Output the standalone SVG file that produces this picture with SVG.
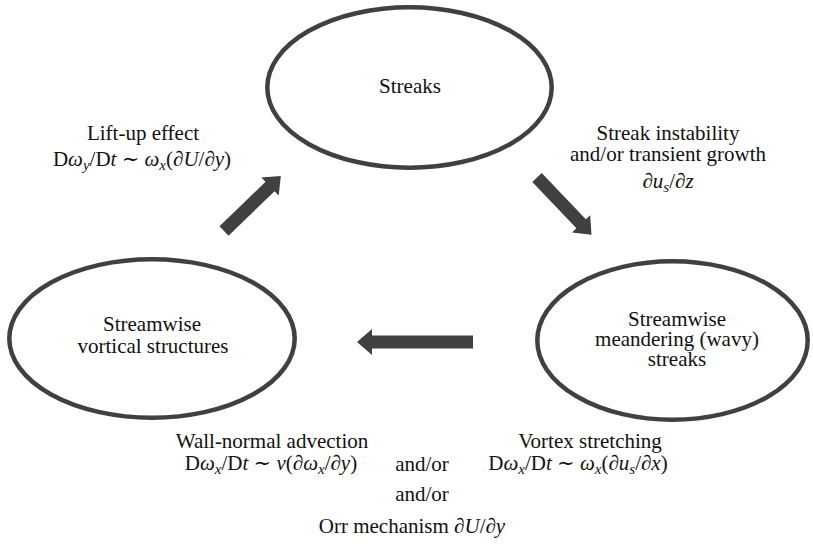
<svg xmlns="http://www.w3.org/2000/svg" width="813" height="548" viewBox="0 0 813 548">
<style>
text{font-family:"Liberation Serif","Times New Roman","DejaVu Serif",serif;font-size:21px;fill:#111;text-anchor:middle}
.i{font-style:italic}
.s{font-size:15px;font-style:italic}
.node{fill:none;stroke:#404040;stroke-width:4.5}
.arrow{fill:#404040;stroke:none}
</style>
<rect width="813" height="548" fill="#fff"/>
<g id="streaks">
<ellipse class="node" cx="409.5" cy="87.5" rx="142.2" ry="80.2"/>
<text x="410" y="93">Streaks</text>
</g>
<g id="vortical">
<ellipse class="node" cx="152" cy="338.5" rx="142.7" ry="79.2"/>
<text x="152" y="331">Streamwise</text>
<text x="153" y="353">vortical structures</text>
</g>
<g id="meandering">
<ellipse class="node" cx="672.5" cy="340.5" rx="135.2" ry="79.2"/>
<text x="677" y="326">Streamwise</text>
<text x="677" y="346">meandering (wavy)</text>
<text x="677" y="366">streaks</text>
</g>
<g id="connectors">
<path class="arrow" d="M0,-6.5 H64 V-12.5 L79,0 L64,12.5 V6.5 H0 Z" transform="translate(224,231) rotate(-44)"/>
<path class="arrow" d="M0,-6.5 H64 V-12.5 L79,0 L64,12.5 V6.5 H0 Z" transform="translate(537,177.5) rotate(46.4)"/>
<path class="arrow" d="M0,-6.5 H101 V-13 L116,0 L101,13 V6.5 H0 Z" transform="translate(473,342) rotate(180)"/>
</g>
<g id="labels">
<text x="143" y="140">Lift-up effect</text>
<text x="142" y="166">D<tspan class="i">ω</tspan><tspan class="s" dy="4">y</tspan><tspan dy="-4">/D</tspan><tspan class="i">t</tspan> ∼ <tspan class="i">ω</tspan><tspan class="s" dy="4">x</tspan><tspan dy="-4">(∂</tspan><tspan class="i">U</tspan>/∂<tspan class="i">y</tspan>)</text>
<text x="668" y="140">Streak instability</text>
<text x="668" y="161">and/or transient growth</text>
<text x="668" y="188">∂<tspan class="i">u</tspan><tspan class="s" dy="4">s</tspan><tspan dy="-4">/∂</tspan><tspan class="i">z</tspan></text>
<text x="272" y="448">Wall-normal advection</text>
<text x="271" y="470">D<tspan class="i">ω</tspan><tspan class="s" dy="4">x</tspan><tspan dy="-4">/D</tspan><tspan class="i">t</tspan> ∼ <tspan class="i">v</tspan>(∂<tspan class="i">ω</tspan><tspan class="s" dy="4">x</tspan><tspan dy="-4">/∂</tspan><tspan class="i">y</tspan>)</text>
<text x="422" y="471">and/or</text>
<text x="590" y="448">Vortex stretching</text>
<text x="578" y="470">D<tspan class="i">ω</tspan><tspan class="s" dy="4">x</tspan><tspan dy="-4">/D</tspan><tspan class="i">t</tspan> ∼ <tspan class="i">ω</tspan><tspan class="s" dy="4">x</tspan><tspan dy="-4">(∂</tspan><tspan class="i">u</tspan><tspan class="s" dy="4">s</tspan><tspan dy="-4">/∂</tspan><tspan class="i">x</tspan>)</text>
<text x="422" y="501">and/or</text>
<text x="412" y="533">Orr mechanism ∂<tspan class="i">U</tspan>/∂<tspan class="i">y</tspan></text>
</g>
</svg>
